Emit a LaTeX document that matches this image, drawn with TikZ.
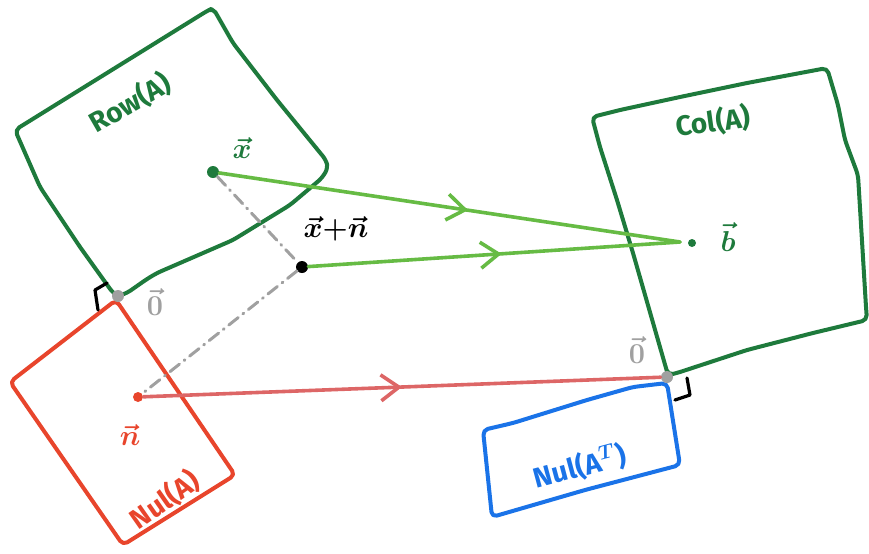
\documentclass[tikz,border=0pt]{standalone}
\usepackage{amsmath}
\usepackage{fontspec}
\setsansfont{Fira Sans}
\usetikzlibrary{arrows.meta,decorations.markings}
\definecolor{spacegreen}{HTML}{1E7A3C}
\definecolor{mapgreen}{HTML}{66BB44}
\definecolor{nulred}{HTML}{E8452C}
\definecolor{mapred}{HTML}{DD6666}
\definecolor{nulblue}{HTML}{1A73E8}
\definecolor{zerogray}{HTML}{A0A0A0}
\begin{document}
\begin{tikzpicture}[x=0.5pt,y=-0.5pt,
  font=\sffamily\bfseries\fontsize{14}{16}\selectfont,
  box/.style={line width=2pt, line join=round, line cap=round, rounded corners=2.5pt},
  dot/.style={circle, inner sep=0pt, minimum size=5pt, fill=#1, draw=none},
  mapline/.style={line width=1.8pt, line cap=round, draw=#1},
  midarrow/.style={postaction=decorate, decoration={markings,
      mark=at position #1 with {\arrow[line width=1.8pt]{Straight Barb[length=9pt,width=13pt]}}}},
  projline/.style={draw=zerogray, line width=1.5pt, line cap=round,
      dash pattern=on 6pt off 3pt on 0.5pt off 3pt},
  rightangle/.style={draw=black, line width=1.6pt, line cap=round, line join=round},
  veclabel/.style={inner sep=1pt, font=\fontsize{15}{17}\selectfont}
]
\useasboundingbox (0,0) rectangle (869,553);

% Row space of A
\draw[box, spacegreen] (15,130) -- (207,11) -- (213,8) -- (233,43) -- (277,100)
  -- (326,160) -- (328,168) -- (322,178) -- (290,205) -- (233,240) -- (157,273)
  -- (147,279) -- (127,293) -- (118,296) -- (113,293) -- (80,247) -- (40,187) -- cycle;
% Column space of A
\draw[box, spacegreen] (592,117) -- (620,110) -- (680,97) -- (747,83) -- (827,68)
  -- (838,105) -- (845,140) -- (858,175) -- (866,307) -- (867,320) -- (813,333)
  -- (747,350) -- (677,373) -- (668,375) -- (633,253) -- (617,200) -- (600,147) -- cycle;
% Null space of A
\draw[box, nulred] (116,300) -- (10,382) -- (123,545) -- (235,475) -- cycle;
% Null space of A^T
\draw[box, nulblue] (667,383) -- (633,387) -- (587,400) -- (513,423) -- (483,430)
  -- (492,517) -- (585,490) -- (680,465) -- cycle;

% right-angle marks at the two origins
\draw[rightangle] (107,283) -- (95,290) -- (98,310);
\draw[rightangle] (687,378) -- (690,395) -- (675,400);

% points
\node[dot=spacegreen, minimum size=6pt] (x) at (213,172) {};
\node[dot=black, minimum size=6pt] (xn) at (302,267) {};
\node[dot=nulred, minimum size=5pt] (n) at (138,397) {};
\node[dot=spacegreen, minimum size=4pt] (b) at (692,243) {};
\coordinate (bin) at (680,242);

% decomposition of x+n
\draw[projline] (x) -- (xn);
\draw[projline] (xn) -- (n);

% origins
\node[dot=zerogray, minimum size=6pt] (o1) at (118,296) {};
\node[dot=zerogray, minimum size=6pt] (o2) at (667,377) {};

% the map A
\draw[mapline=mapgreen, midarrow=0.54] (x) -- (bin);
\draw[mapline=mapgreen, midarrow=0.52] (xn) -- (bin);
\draw[mapline=mapred, midarrow=0.5] (n) -- (o2);

% labels
\node[spacegreen, rotate=30] (rowlbl) at (130,103) {Row(A)};
\node[spacegreen, rotate=8] (collbl) at (713,122) {Col(A)};
\node[nulred, rotate=35] (nullbl) at (165,500) {Nul(A)};
\node[nulblue, rotate=15] (nultlbl) at (580,467) {Nul(A$^{\boldsymbol{T}}$)};
\node[veclabel, black] (xnlbl) at (336,229) {$\boldsymbol{\vec{x}{+}\vec{n}}$};
\node[veclabel, spacegreen] (xlbl) at (242,148) {$\boldsymbol{\vec{x}}$};
\node[veclabel, nulred] (nlbl) at (130,435) {$\boldsymbol{\vec{n}}$};
\node[veclabel, spacegreen] (blbl) at (728,237) {$\boldsymbol{\vec{b}}$};
\node[veclabel, zerogray] (o1lbl) at (155,302) {$\boldsymbol{\vec{0}}$};
\node[veclabel, zerogray] (o2lbl) at (637,350) {$\boldsymbol{\vec{0}}$};
\end{tikzpicture}
\end{document}
